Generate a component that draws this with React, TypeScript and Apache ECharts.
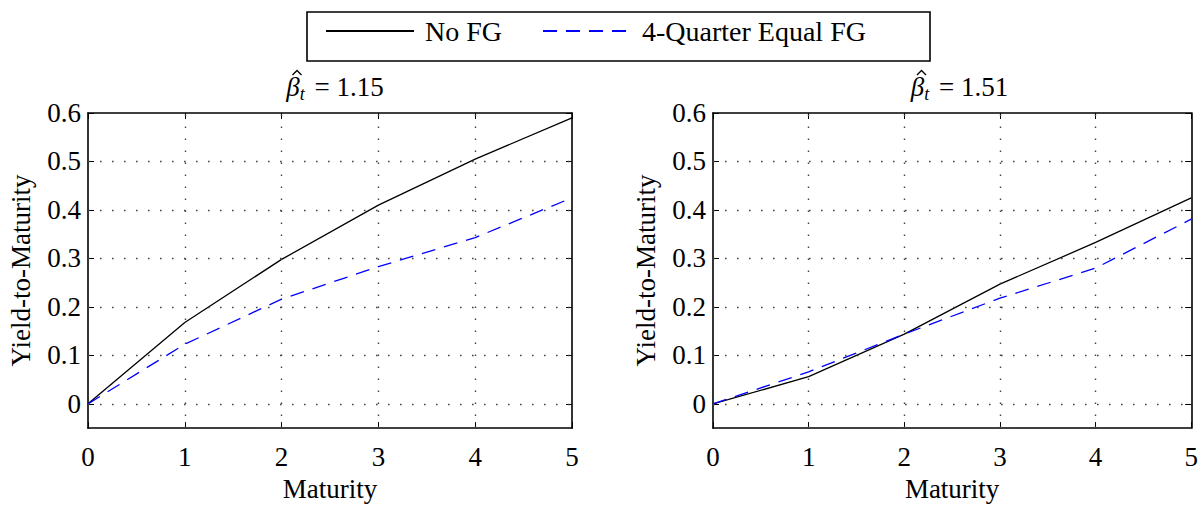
import React, { useEffect, useRef } from "react";
import * as echarts from "echarts";

const maturity = [0, 1, 2, 3, 4, 5];
const noFG_115 = [0, 0.168, 0.298, 0.41, 0.505, 0.59];
const fg_115 = [0, 0.123, 0.216, 0.283, 0.343, 0.425];
const noFG_151 = [0, 0.056, 0.144, 0.247, 0.333, 0.425];
const fg_151 = [0, 0.066, 0.144, 0.218, 0.28, 0.381];
const xTicks = [0, 1, 2, 3, 4, 5];
const yTicks = [0, 0.1, 0.2, 0.3, 0.4, 0.5, 0.6];
const betaValues = ["1.15", "1.51"];
const seriesNames = ["No FG", "4-Quarter Equal FG"];

const FONT = "serif";

export default function App() {
  const ref = useRef<HTMLDivElement>(null);
  useEffect(() => {
    if (!ref.current) return;
    const chart = echarts.init(ref.current, null, { renderer: "svg" });
    const grids = [
      { left: 88, width: 484, top: 113, height: 329 },
      { left: 713, width: 483, top: 113, height: 329 },
    ];
    const panels = [
      { noFG: noFG_115, fg: fg_115 },
      { noFG: noFG_151, fg: fg_151 },
    ];
    const tickStyle = { inside: true, length: 6, lineStyle: { color: "#000", width: 1 } };
    const lineStyleAxis = { show: true, onZero: false, lineStyle: { color: "#000", width: 1.6 } };
    const xAxes: any[] = [];
    const yAxes: any[] = [];
    grids.forEach((_, i) => {
      xAxes.push({
        type: "value",
        gridIndex: i,
        min: 0,
        max: 5,
        interval: 1,
        position: "bottom",
        axisLine: lineStyleAxis,
        axisTick: tickStyle,
        splitLine: { show: false },
        axisLabel: { color: "#000", fontFamily: FONT, fontSize: 27, margin: 15 },
        name: "Maturity",
        nameLocation: "middle",
        nameGap: 45,
        nameTextStyle: { color: "#000", fontFamily: FONT, fontSize: 27 },
      });
      xAxes.push({
        type: "value",
        gridIndex: i,
        min: 0,
        max: 5,
        interval: 1,
        position: "top",
        axisLine: lineStyleAxis,
        axisTick: tickStyle,
        splitLine: { show: false },
        axisLabel: { show: false },
      });
      yAxes.push({
        type: "value",
        gridIndex: i,
        min: -0.05,
        max: 0.6,
        position: "left",
        axisLine: lineStyleAxis,
        axisTick: { ...tickStyle, customValues: yTicks },
        splitLine: { show: false },
        axisLabel: {
          customValues: yTicks,
          color: "#000",
          fontFamily: FONT,
          fontSize: 27,
          margin: 7,
          formatter: (v: number) => String(Math.round(v * 10) / 10),
        },
        name: "Yield-to-Maturity",
        nameLocation: "middle",
        nameRotate: 90,
        nameGap: 54,
        nameTextStyle: { color: "#000", fontFamily: FONT, fontSize: 27 },
      });
      yAxes.push({
        type: "value",
        gridIndex: i,
        min: -0.05,
        max: 0.6,
        position: "right",
        axisLine: lineStyleAxis,
        axisTick: { ...tickStyle, customValues: yTicks },
        splitLine: { show: false },
        axisLabel: { show: false, customValues: yTicks },
      });
    });

    const series: any[] = [];
    panels.forEach((p, i) => {
      series.push({
        type: "line",
        name: seriesNames[0],
        xAxisIndex: i * 2,
        yAxisIndex: i * 2,
        data: maturity.map((m, k) => [m, p.noFG[k]]),
        showSymbol: false,
        symbol: "none",
        lineStyle: { color: "#000", width: 1.3, type: "solid" },
        itemStyle: { color: "#000" },
        z: 3,
        markLine: {
          silent: true,
          symbol: "none",
          label: { show: false },
          lineStyle: { color: "#444", width: 1.4, type: [1.6, 10.4] },
          data: [
            ...xTicks.filter((v) => v > 0 && v < 5).map((v) => ({ xAxis: v })),
            ...yTicks.filter((v) => v < 0.6).map((v) => ({ yAxis: v })),
          ],
        },
      });
      series.push({
        type: "line",
        name: seriesNames[1],
        xAxisIndex: i * 2,
        yAxisIndex: i * 2,
        data: maturity.map((m, k) => [m, p.fg[k]]),
        showSymbol: false,
        symbol: "none",
        lineStyle: { color: "#0000ff", width: 1.3, type: [14, 9] },
        itemStyle: { color: "#0000ff" },
        z: 4,
      });
    });

    const titles = betaValues.map((b, i) => ({
      text: `{b|β}{s|t}{n| = ${b}}`,
      left: grids[i].left + grids[i].width / 2,
      textAlign: "center",
      top: 66,
      textStyle: {
        fontWeight: "normal",
        fontFamily: FONT,
        rich: {
          b: { fontFamily: FONT, fontSize: 27, fontStyle: "italic", fontWeight: "normal", color: "#000", verticalAlign: "middle" },
          s: { fontFamily: FONT, fontSize: 18, fontStyle: "italic", fontWeight: "normal", color: "#000", padding: [14, 3, 0, 0], verticalAlign: "middle" },
          n: { fontFamily: FONT, fontSize: 27, fontWeight: "normal", color: "#000", verticalAlign: "middle" },
        },
      },
    }));

    // circumflex accent drawn as a small caret shape above beta
    const hats = betaValues.map((_, i) => {
      const cx = grids[i].left + grids[i].width / 2 - 33;
      return {
        type: "polyline",
        silent: true,
        shape: { points: [[cx - 4.5, 75], [cx, 70.5], [cx + 4.5, 75]] },
        style: { stroke: "#000", lineWidth: 1.3, fill: "none" },
      };
    });

    chart.setOption({
      animation: false,
      backgroundColor: "#fff",
      title: titles,
      legend: {
        left: 325,
        top: 17,
        itemWidth: 88,
        itemHeight: 16,
        itemGap: 40,
        padding: 0,
        itemStyle: { opacity: 0 },
        data: seriesNames,
        textStyle: { color: "#000", fontFamily: FONT, fontSize: 28, padding: [0, 0, 0, 6] },
      },
      graphic: [
        {
          type: "rect",
          shape: { x: 307, y: 12, width: 623, height: 49 },
          style: { fill: "none", stroke: "#000", lineWidth: 1.6 },
          silent: true,
        },
        ...hats,
      ],
      grid: grids,
      xAxis: xAxes,
      yAxis: yAxes,
      series,
    });
    return () => chart.dispose();
  }, []);
  return (
    <div
      ref={ref}
      style={{ position: "fixed", left: 0, top: 0, width: 1201, height: 507, background: "#fff" }}
    />
  );
}
